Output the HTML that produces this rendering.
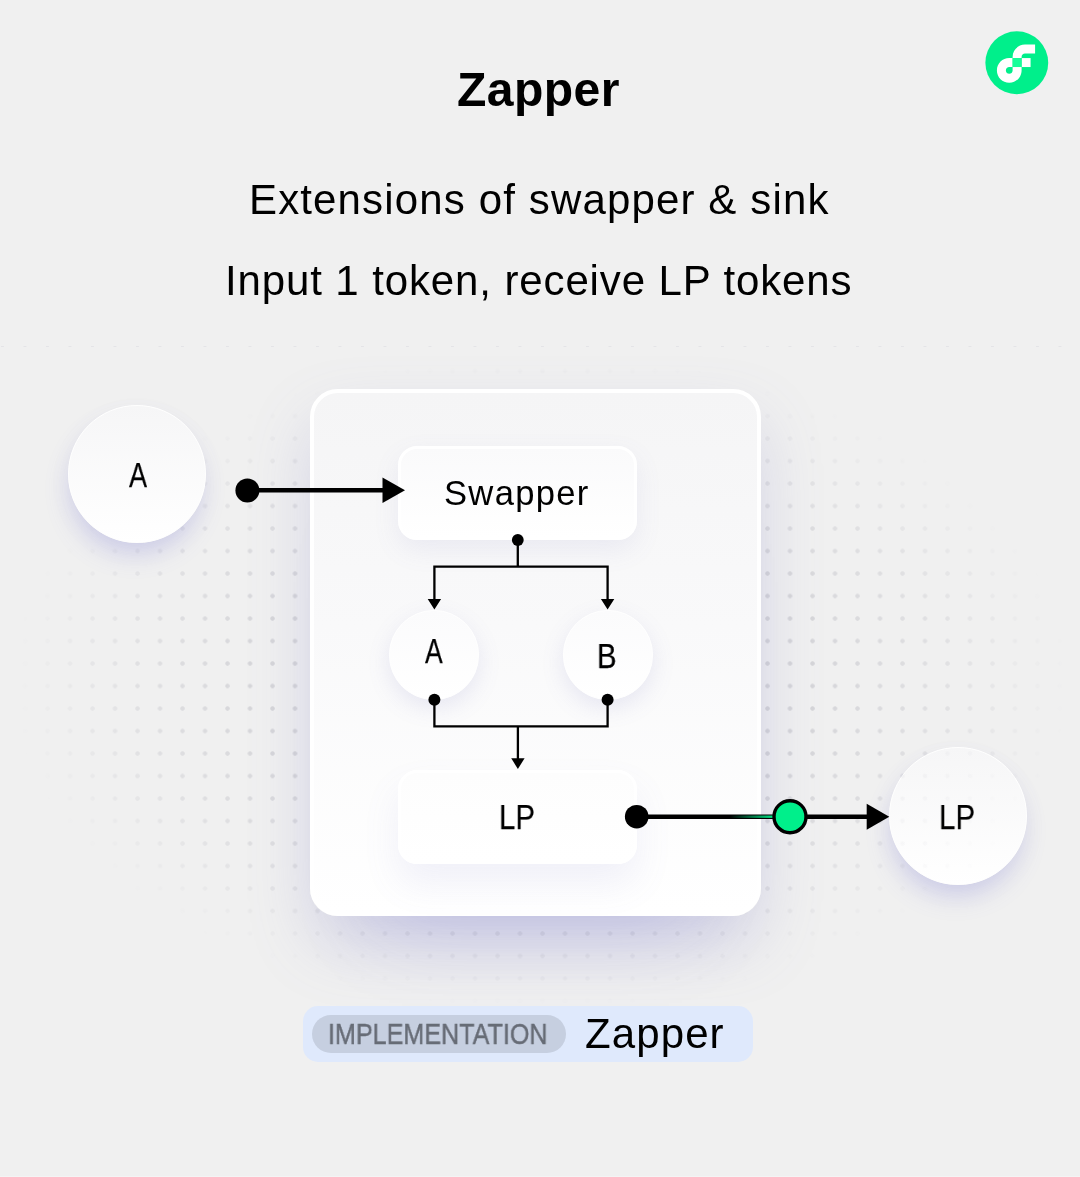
<!DOCTYPE html>
<html lang="en">
<head>
<meta charset="utf-8">
<title>Zapper</title>
<style>
html,body{margin:0;padding:0;}
body{width:1080px;height:1177px;position:relative;overflow:hidden;background:#f0f0f0;font-family:"Liberation Sans",sans-serif;color:#000;}
.abs{position:absolute;}
.dots{left:0;top:346px;width:1080px;height:700px;
  background-image:radial-gradient(circle at 2.5px 2.5px,rgba(75,75,98,.16) 0,rgba(75,75,98,.16) 1.8px,rgba(75,75,98,0) 2.6px);
  background-size:22.5px 22.5px;background-position:0 0;
  -webkit-mask-image:radial-gradient(ellipse 530px 328px at 540px 336px,#000 0,#000 52%,rgba(0,0,0,.55) 78%,rgba(0,0,0,.17) 92%,rgba(0,0,0,0) 100%);
  mask-image:radial-gradient(ellipse 530px 328px at 540px 336px,#000 0,#000 52%,rgba(0,0,0,.55) 78%,rgba(0,0,0,.17) 92%,rgba(0,0,0,0) 100%);}
.toprow{left:0;top:345.5px;width:1080px;height:1.2px;background-image:linear-gradient(90deg,rgba(0,0,0,0) 1px,#e4e4e7 1.3px,#e4e4e7 3.7px,rgba(0,0,0,0) 3.7px);background-size:22.5px 2px;}
.t{position:absolute;white-space:nowrap;line-height:1;will-change:transform;}
h1{margin:0;font-weight:700;}
.card{left:310.4px;top:389px;width:450.6px;height:527px;box-sizing:border-box;border:4.5px solid #fff;border-radius:28px;
  background:linear-gradient(180deg,#f5f5f6 0%,#f9f9fa 45%,#ffffff 100%);
}
.cardsh{left:310px;top:389px;width:451px;height:527px;border-radius:27px;box-shadow:0 76px 80px -70px rgba(90,90,210,.22), 0 30px 66px -6px rgba(120,120,195,.26);}
.box{box-sizing:border-box;border:3px solid #fff;border-radius:19px;background:linear-gradient(180deg,#fafafb,#ffffff);
  box-shadow:0 10px 26px rgba(120,120,190,.10);}
.box2{background:linear-gradient(180deg,#fdfdfd,#ffffff);box-shadow:0 20px 36px rgba(115,115,200,.10);}
.circ{border-radius:50%;box-sizing:border-box;border:1.5px solid #fff;background:linear-gradient(180deg,#f5f5f6,#ffffff);}
.big{background:linear-gradient(180deg,#f6f6f7,#ffffff);}
.bigsh{border-radius:50%;box-shadow:-2px 15px 26px -4px rgba(105,105,215,.22), 0 8px 22px -2px rgba(125,125,190,.08);}
.small{box-shadow:0 8px 22px rgba(120,120,190,.15);border-color:#fff;background:linear-gradient(180deg,#fbfbfc,#ffffff);}
.nar{transform-origin:0 0;transform:scaleX(.8);}
</style>
</head>
<body>

<h1 class="t" id="title" style="left:457.2px;top:65.3px;font-size:48.1px;letter-spacing:.4px;">Zapper</h1>
<div class="t" id="l1" style="left:249px;top:179.45px;font-size:42px;letter-spacing:1.14px;">Extensions of swapper &amp; sink</div>
<div class="t" id="l2" style="left:225.3px;top:260.05px;font-size:42px;letter-spacing:.88px;">Input 1 token, receive LP tokens</div>

<!-- logo -->
<svg class="abs" style="left:985.2px;top:31.2px" width="63.6" height="63.6" viewBox="0 0 256 256">
  <circle cx="128" cy="128" r="126.5" fill="#00ef8b"/>
  <g transform="translate(2.5,1)">
  <rect x="144.9" y="108" width="36.1" height="36.1" fill="#fff"/>
  <path d="M108.7 157.7c0 7.5-6.1 13.6-13.6 13.6s-13.6-6.1-13.6-13.6 6.1-13.6 13.6-13.6h13.6V108H95.1c-27.4 0-49.7 22.3-49.7 49.7s22.3 49.7 49.7 49.7 49.7-22.3 49.7-49.7v-13.6h-36.1v13.6z" fill="#fff"/>
  <path d="M158.4 89.9h40.7V53.8h-40.7c-27.4 0-49.7 22.3-49.7 49.7V108h36.1v-4.5c0-7.5 6.1-13.6 13.6-13.6z" fill="#fff"/>
  <rect x="108.7" y="108" width="36.1" height="36.1" fill="#16ff99"/>
  </g>
</svg>

<div class="abs" style="left:0;top:1176px;width:1080px;height:1px;background:#f4f4f4;"></div>
<div class="abs cardsh"></div>
<div class="abs bigsh" style="left:68px;top:405px;width:138px;height:138px;"></div>
<div class="abs bigsh" style="left:889px;top:747px;width:138px;height:138px;"></div>
<div class="abs dots"></div>
<div class="abs toprow"></div>
<div class="abs card"></div>
<div class="abs box" style="left:398px;top:446px;width:239px;height:94px;"></div>
<div class="abs box box2" style="left:398px;top:770px;width:239px;height:94px;"></div>
<div class="abs circ small" style="left:389px;top:610px;width:90px;height:90px;"></div>
<div class="abs circ small" style="left:563px;top:610px;width:90px;height:90px;"></div>
<div class="abs circ big" style="left:68px;top:405px;width:138px;height:138px;"></div>
<div class="abs circ big" style="left:889px;top:747px;width:138px;height:138px;"></div>

<div class="abs" style="left:889px;top:747px;width:138px;height:138px;border-radius:50%;background-image:radial-gradient(circle at 13.5px 6.5px,rgba(75,75,98,.035) 0,rgba(75,75,98,.035) 1.8px,rgba(75,75,98,0) 2.6px);background-size:22.5px 22.5px;-webkit-mask-image:linear-gradient(115deg,#000 25%,rgba(0,0,0,0) 80%);mask-image:linear-gradient(115deg,#000 25%,rgba(0,0,0,0) 80%);"></div>
<svg class="abs" style="left:0;top:0" width="1080" height="1177" viewBox="0 0 1080 1177">
  <defs>
    <linearGradient id="trail" x1="0" x2="1" y1="0" y2="0">
      <stop offset="0" stop-color="#00ef8b" stop-opacity="0"/>
      <stop offset="1" stop-color="#00ef8b" stop-opacity="1"/>
    </linearGradient>
  </defs>
  <!-- input arrow -->
  <line x1="247" y1="490.3" x2="386" y2="490.3" stroke="#000" stroke-width="4.6"/>
  <circle cx="247.4" cy="490.4" r="12" fill="#000"/>
  <path d="M382.5 477.6 L405 490.3 L382.5 503 Z" fill="#000"/>
  <!-- split -->
  <path d="M517.8 540 V566.7 M434.4 601 V566.7 H607.6 V601" fill="none" stroke="#000" stroke-width="2.3"/>
  <circle cx="517.8" cy="540" r="5.9" fill="#000"/>
  <path d="M427.7 599 H441.1 L434.4 609.6 Z M600.9 599 H614.3 L607.6 609.6 Z" fill="#000"/>
  <!-- merge -->
  <path d="M434.4 699.7 V726.4 H607.6 V699.7 M517.9 726.4 V760" fill="none" stroke="#000" stroke-width="2.3"/>
  <circle cx="434.4" cy="699.7" r="6" fill="#000"/>
  <circle cx="607.6" cy="699.7" r="6" fill="#000"/>
  <path d="M511.2 758.3 H524.6 L517.9 768.9 Z" fill="#000"/>
  <!-- output arrow -->
  <line x1="636.7" y1="816.7" x2="870" y2="816.7" stroke="#000" stroke-width="4.6"/>
  <circle cx="636.7" cy="816.7" r="11.8" fill="#000"/>
  <path d="M866.7 803.7 L889.3 816.7 L866.7 829.7 Z" fill="#000"/>
  <rect x="730" y="815.5" width="45" height="2.4" fill="url(#trail)"/>
  <circle cx="790" cy="816.7" r="16" fill="#00ef8b" stroke="#000" stroke-width="3.4"/>
</svg>

<div class="t" id="sw" style="left:444.2px;top:475.6px;font-size:34.6px;letter-spacing:1.3px;">Swapper</div>
<div class="t nar" id="a1" style="left:128.9px;top:458px;font-size:34.6px;transform:scaleX(.784);-webkit-text-stroke:.25px #000;">A</div>
<div class="t nar" id="a2" style="left:425.4px;top:634.4px;font-size:34.6px;transform:scaleX(.765);-webkit-text-stroke:.25px #000;">A</div>
<div class="t nar" id="b2" style="left:596.6px;top:639px;font-size:34.6px;transform:scaleX(.844);-webkit-text-stroke:.25px #000;">B</div>
<div class="t nar" id="lp1" style="left:498.6px;top:799.8px;font-size:34.6px;transform:scaleX(.85);-webkit-text-stroke:.25px #000;">LP</div>
<div class="t nar" id="lp2" style="left:939.2px;top:799.8px;font-size:34.6px;transform:scaleX(.854);-webkit-text-stroke:.25px #000;">LP</div>

<!-- bottom pill -->
<div class="abs" style="left:302.5px;top:1006px;width:450px;height:55.5px;border-radius:15px;background:#dfe9fc;"></div>
<div class="abs" style="left:311.8px;top:1014.9px;width:254px;height:38px;border-radius:19px;background:#c6cfe0;"></div>
<div class="t" id="impl" style="left:327.7px;top:1019.6px;font-size:29px;color:#676c76;-webkit-text-stroke:.45px #676c76;transform-origin:0 0;transform:scaleX(.866);">IMPLEMENTATION</div>
<div class="t" id="zap" style="left:584.7px;top:1013.35px;font-size:42px;letter-spacing:1.1px;">Zapper</div>
</body>
</html>
